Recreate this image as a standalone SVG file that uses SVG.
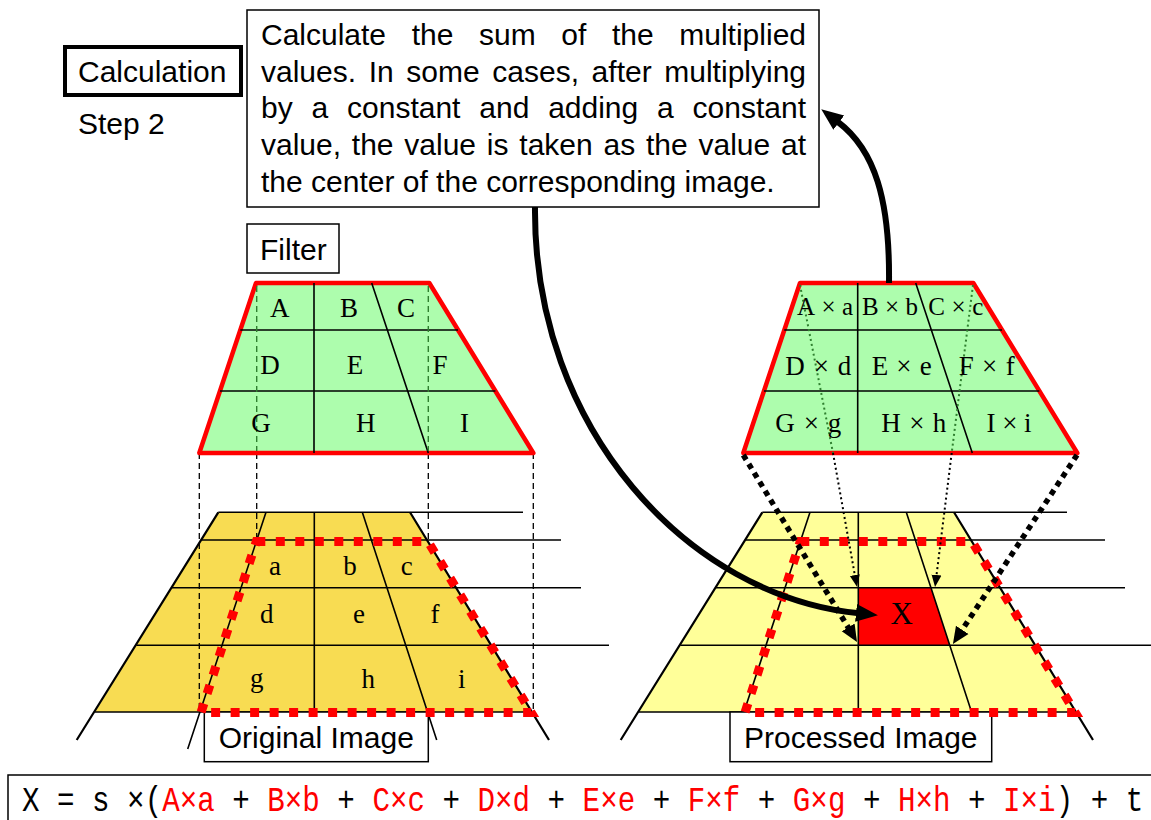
<svg xmlns="http://www.w3.org/2000/svg" width="1151" height="820" viewBox="0 0 1151 820">
<style>
.sans{font-family:"Liberation Sans",Arial,sans-serif;font-size:30px;fill:#000}
.serif{font-family:"Liberation Serif","Times New Roman",serif;fill:#000}
.box{fill:#fff;stroke:#000;stroke-width:1.5}
.grid{stroke:#000;stroke-width:1.6;fill:none}
.edge{stroke:#000;stroke-width:2.2;fill:none}
.reddot{fill:none;stroke:#f00;stroke-width:9;stroke-dasharray:9 10.5}
.filt{fill:#adfdad;stroke:#f00;stroke-width:4.5;stroke-linejoin:round}
.dash{stroke:#000;stroke-width:1.3;stroke-dasharray:6 4;fill:none}
.gdash{stroke:#2f7f2f;stroke-width:1.4;stroke-dasharray:6 4;fill:none}
.gdot{stroke:#2f7f2f;stroke-width:2;stroke-dasharray:2 3;fill:none}
.tdot{stroke:#000;stroke-width:2;stroke-dasharray:2 3;fill:none}
.bdot{stroke:#000;stroke-width:5.5;stroke-dasharray:5.5 5}
.big{stroke:#000;stroke-width:6;fill:none}
.red{fill:#f00}
.mono{font-family:"Liberation Mono","DejaVu Sans Mono",monospace;font-size:29.2px;fill:#000}
</style>
<defs>
<marker id="headBig" viewBox="0 -10 22 20" markerWidth="22" markerHeight="20" refX="1" refY="0" markerUnits="userSpaceOnUse" orient="auto"><path d="M0,-9 L22,0 L0,9 z" fill="#000"/></marker>
<marker id="headMid" viewBox="0 -8 17 16" markerWidth="17" markerHeight="16" refX="1" refY="0" markerUnits="userSpaceOnUse" orient="auto"><path d="M0,-7.5 L17,0 L0,7.5 z" fill="#000"/></marker>
<marker id="headSmall" viewBox="0 -6 12 12" markerWidth="12" markerHeight="12" refX="1" refY="0" markerUnits="userSpaceOnUse" orient="auto"><path d="M0,-5 L12,0 L0,5 z" fill="#000"/></marker>
</defs>

<g id="calc-label">
<rect x="65" y="47" width="176" height="48" fill="#fff" stroke="#000" stroke-width="4"/>
<text class="sans" x="78" y="82">Calculation</text>
</g>
<g id="step-label"><text class="sans" x="78" y="134">Step 2</text></g>

<g id="desc-box">
<rect class="box" x="247" y="10" width="572" height="197"/>
<text class="sans" x="261" y="45" word-spacing="17.3" textLength="545" lengthAdjust="spacing">Calculate the sum of the multiplied</text>
<text class="sans" x="261" y="81.7" word-spacing="4.3" textLength="545" lengthAdjust="spacing">values. In some cases, after multiplying</text>
<text class="sans" x="261" y="118.3" word-spacing="10.5" textLength="545" lengthAdjust="spacing">by a constant and adding a constant</text>
<text class="sans" x="261" y="155" word-spacing="2.5" textLength="545" lengthAdjust="spacing">value, the value is taken as the value at</text>
<text class="sans" x="261" y="191.7">the center of the corresponding image.</text>
</g>

<g id="filter-label">
<rect class="box" x="247" y="224" width="92" height="49"/>
<text class="sans" x="260" y="260">Filter</text>
</g>

<g id="original-image">
<polygon points="218.3,512.3 410,512.3 531.7,712 95,712" fill="#f8dc52"/>
<path class="grid" d="M218.3,512.3H523 M201.2,540H561 M171.8,587.7H581 M136.3,645.3H609 M95,712H531.7 M314.3,512.3V712 M266,512.3L187.7,749 M362.3,512.3L436.7,740"/>
<path class="edge" d="M218.3,512.3L76.7,740 M410,512.3L549,740"/>
<path class="dash" d="M199.3,453V712 M533.3,453V712 M256.7,453V541 M428.3,453V541"/>
<rect class="box" x="204.3" y="712" width="224" height="49.7"/>
<text class="sans" x="316.3" y="748" text-anchor="middle">Original Image</text>
<polygon class="reddot" points="256.3,541.5 428,541.5 531.2,712.5 201,712.5"/>
<g class="serif" font-size="27" text-anchor="middle">
<text x="275" y="575">a</text><text x="350" y="575">b</text><text x="406.7" y="575">c</text>
<text x="266.7" y="623.3">d</text><text x="359" y="623.3">e</text><text x="435" y="623.3">f</text>
<text x="256.7" y="687">g</text><text x="368.3" y="688">h</text><text x="461.7" y="688">i</text>
</g>
</g>

<g id="filter-left">
<polygon class="filt" points="256,283 429.3,283 533.3,453 199.3,453"/>
<path class="grid" d="M240.3,330H458 M220,391H495.4 M314,283V453 M371.7,283L428.3,453"/>
<path class="gdash" d="M256.7,286V451 M428.3,286V451"/>
<g class="serif" font-size="27" text-anchor="middle">
<text x="279.7" y="316.7">A</text><text x="349" y="316.7">B</text><text x="406" y="316.7">C</text>
<text x="270" y="374">D</text><text x="355" y="374">E</text><text x="440" y="374">F</text>
<text x="261" y="431.7">G</text><text x="365.7" y="431.7">H</text><text x="464.5" y="431.7">I</text>
</g>
</g>

<g id="processed-image">
<g transform="translate(544,0)">
<polygon points="218.3,512.3 410,512.3 531.7,712 95,712" fill="#ffff99"/>
<polygon points="314.3,587.7 387,587.7 405.7,645.3 314.3,645.3" class="red"/>
<path class="grid" d="M218.3,512.3H523 M201.2,540H561 M171.8,587.7H581 M136.3,645.3H609 M95,712H531.7 M314.3,512.3V712 M266,512.3L187.7,749 M362.3,512.3L436.7,740"/>
<path class="edge" d="M218.3,512.3L76.7,740 M410,512.3L549,740"/>
</g>
<rect class="box" x="730" y="712" width="261.7" height="49.7"/>
<text class="sans" x="860.8" y="747.5" text-anchor="middle">Processed Image</text>
<polygon class="reddot" points="800.3,541.5 972,541.5 1075.2,712.5 745,712.5"/>
<text class="serif" font-size="31" x="901.7" y="624" text-anchor="middle">X</text>
</g>

<g id="filter-right">
<polygon class="filt" points="800,283 973.3,283 1077.3,453 743.3,453"/>
<path class="grid" d="M784.3,330H1002 M764,391H1039.4 M857.7,283V453 M915.7,283L972.3,453"/>
<path class="gdot" d="M800,285L833,453 M973,285L951.7,453"/>
<g class="serif" text-anchor="middle">
<text font-size="25" x="825" y="315" textLength="56" lengthAdjust="spacing">A×a</text>
<text font-size="25" x="890" y="315" textLength="56" lengthAdjust="spacing">B×b</text>
<text font-size="25" x="955.8" y="315" textLength="55" lengthAdjust="spacing">C×c</text>
<text font-size="27" x="818.3" y="375" textLength="66" lengthAdjust="spacing">D×d</text>
<text font-size="27" x="901.7" y="375" textLength="60" lengthAdjust="spacing">E×e</text>
<text font-size="27" x="986.7" y="375" textLength="56" lengthAdjust="spacing">F×f</text>
<text font-size="27" x="808.3" y="432" textLength="66" lengthAdjust="spacing">G×g</text>
<text font-size="27" x="913.8" y="432" textLength="65" lengthAdjust="spacing">H×h</text>
<text font-size="27" x="1009" y="432" textLength="45" lengthAdjust="spacing">I×i</text>
</g>
</g>

<g id="connectors">
<path class="tdot" d="M833,453L855,576" marker-end="url(#headSmall)"/>
<path class="tdot" d="M951.7,453L936.4,576" marker-end="url(#headSmall)"/>
<path class="bdot" fill="none" d="M743.3,455L848.7,628.3" marker-end="url(#headMid)"/>
<path class="bdot" fill="none" d="M1077,455L961.7,630.6" marker-end="url(#headMid)"/>
<path class="big" d="M535,207C533,430 690,596 857,613" marker-end="url(#headBig)"/>
<path class="big" d="M889,283C890,200 875,150 838,122" marker-end="url(#headBig)"/>
</g>

<g id="formula">
<rect class="box" x="8" y="775" width="1150" height="52"/>
<text class="mono" transform="translate(22,811) scale(1,1.22)" x="0" y="0" xml:space="preserve">X = s ×(<tspan fill="#f00">A×a</tspan> + <tspan fill="#f00">B×b</tspan> + <tspan fill="#f00">C×c</tspan> + <tspan fill="#f00">D×d</tspan> + <tspan fill="#f00">E×e</tspan> + <tspan fill="#f00">F×f</tspan> + <tspan fill="#f00">G×g</tspan> + <tspan fill="#f00">H×h</tspan> + <tspan fill="#f00">I×i</tspan>) + t</text>
</g>
</svg>
